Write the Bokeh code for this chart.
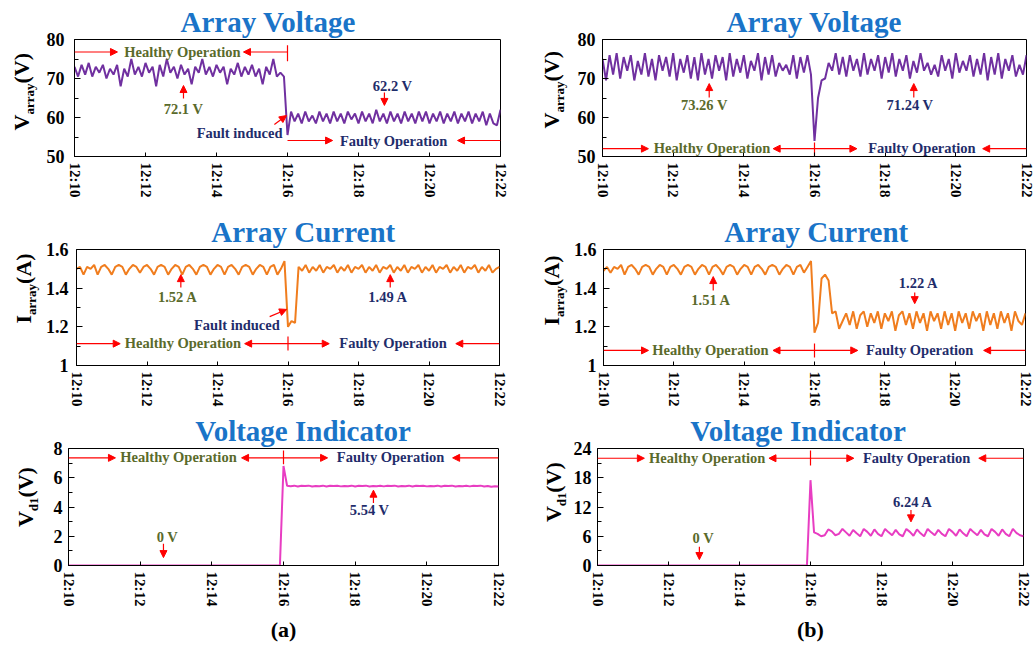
import math
from bokeh.plotting import figure
from bokeh.models import Range1d, FixedTicker, Label, Arrow, NormalHead, Title
from bokeh.core.properties import value
from bokeh.layouts import row, column
from bokeh.embed import file_html
from bokeh.resources import INLINE

FONT = "Liberation Serif"
BLUE = "#1a74c8"
OLIVE = "#5a6a2b"
NAVY = "#1f2d6b"
RED = "#ff0000"
PURPLE = "#7030a0"
ORANGE = "#f07d1e"
MAGENTA = "#e83dc2"

# sampling times (minutes after 12:00), one sample every 0.1 min
t = [round(10 + 0.1 * i, 1) for i in range(121)]
tick_minutes = [10, 12, 14, 16, 18, 20, 22]
tick_labels = ["12:10", "12:12", "12:14", "12:16", "12:18", "12:20", "12:22"]

# (a) array voltage
v_array_a = [
    73, 70.5, 73.5, 71, 74, 70.5, 73, 71.5, 73.5, 70,
    72.5, 71, 73.5, 68, 72.5, 70.5, 75, 71, 73, 70.5,
    74, 71.5, 73, 68, 73.5, 70.5, 75, 71.5, 73, 70,
    73.5, 71, 72.5, 68.5, 73, 71.5, 75, 71, 73, 70.5,
    73.5, 71.5, 73, 68.5, 72.5, 71, 74, 70.5, 73, 71,
    73.5, 70.5, 72.5, 68.5, 73, 71, 75, 70.5, 71.5, 70.5,
    55.5,
    61.5, 59, 61, 58.5, 61.5, 59, 60.5, 58.5, 61.5, 59,
    61, 58.5, 61.5, 59, 61, 58.5, 61.5, 59.5, 61, 58.5,
    61.5, 59, 61, 58.5, 62, 59, 61, 58.5, 61.5, 59,
    61, 58.5, 61.5, 59, 61, 58.5, 61.5, 59, 61.5, 58.5,
    61, 59, 61.5, 58.5, 61, 59, 61.5, 58.5, 61, 59,
    61.5, 58.5, 61, 59, 61.5, 58, 61, 58.5, 58, 62]

# (b) array voltage
v_array_b = [
    75, 69.5, 76, 71, 76.5, 70, 75.5, 72, 76, 69.5,
    74.5, 71, 76.5, 70.5, 75, 69.5, 76, 72, 75.5, 70.5,
    76.5, 69.5, 75, 71.5, 76, 70, 75.5, 69.5, 76.5, 71,
    75, 70, 76, 72, 75.5, 69.5, 76.5, 70.5, 75, 71.5,
    76, 70, 74.5, 72, 76.5, 69.5, 75.5, 71, 76, 70.5,
    74, 72, 73.5, 71, 76, 70, 75.5, 71.5, 76, 71,
    54,
    65, 69.5, 70, 74, 72, 76.5, 71, 75.5, 70.5, 76,
    72, 75, 70.5, 76.5, 71, 75, 72, 76, 70, 75.5,
    71.5, 76.5, 70.5, 75, 72, 76, 70, 74.5, 71.5, 76.5,
    72, 74, 71, 73.5, 70.5, 76, 72, 75, 70, 76.5,
    71.5, 74.5, 72, 76, 70.5, 75, 71, 76.5, 69.5, 75.5,
    71, 76.5, 70, 75, 72, 76, 70.5, 73.5, 71, 76]

# (a) array current
i_array_a = [
    1.50, 1.51, 1.47, 1.51, 1.50, 1.52, 1.47, 1.51, 1.52, 1.50,
    1.47, 1.51, 1.52, 1.51, 1.47, 1.50, 1.52, 1.51, 1.48, 1.51,
    1.52, 1.50, 1.47, 1.51, 1.52, 1.51, 1.47, 1.50, 1.52, 1.51,
    1.47, 1.51, 1.52, 1.50, 1.47, 1.51, 1.52, 1.51, 1.47, 1.50,
    1.52, 1.51, 1.47, 1.51, 1.52, 1.50, 1.47, 1.51, 1.52, 1.51,
    1.47, 1.50, 1.52, 1.51, 1.47, 1.51, 1.52, 1.47, 1.50, 1.54,
    1.20, 1.23, 1.22, 1.51, 1.49, 1.52, 1.48, 1.51, 1.49, 1.52,
    1.48, 1.51, 1.50, 1.52, 1.48, 1.51, 1.49, 1.52, 1.48, 1.51,
    1.50, 1.52, 1.48, 1.51, 1.49, 1.52, 1.48, 1.51, 1.50, 1.52,
    1.48, 1.51, 1.49, 1.52, 1.48, 1.51, 1.50, 1.52, 1.48, 1.51,
    1.49, 1.52, 1.48, 1.51, 1.50, 1.52, 1.48, 1.51, 1.49, 1.52,
    1.48, 1.51, 1.50, 1.52, 1.48, 1.51, 1.49, 1.52, 1.48, 1.50, 1.51]

# (b) array current
i_array_b = [
    1.49, 1.51, 1.48, 1.51, 1.50, 1.52, 1.47, 1.51, 1.52, 1.50,
    1.47, 1.51, 1.52, 1.51, 1.47, 1.50, 1.52, 1.51, 1.47, 1.51,
    1.52, 1.50, 1.47, 1.51, 1.52, 1.51, 1.47, 1.50, 1.52, 1.51,
    1.47, 1.51, 1.52, 1.50, 1.47, 1.51, 1.52, 1.51, 1.47, 1.50,
    1.52, 1.51, 1.47, 1.51, 1.52, 1.50, 1.47, 1.51, 1.52, 1.51,
    1.47, 1.50, 1.52, 1.51, 1.47, 1.51, 1.52, 1.48, 1.51, 1.54,
    1.17, 1.22, 1.45, 1.47, 1.44, 1.27, 1.28, 1.19, 1.23, 1.27,
    1.21, 1.28, 1.19, 1.26, 1.28, 1.20, 1.27, 1.22, 1.28, 1.19,
    1.27, 1.23, 1.28, 1.18, 1.26, 1.28, 1.21, 1.27, 1.19, 1.28,
    1.22, 1.27, 1.18, 1.28, 1.23, 1.27, 1.19, 1.28, 1.21, 1.27,
    1.18, 1.28, 1.22, 1.27, 1.19, 1.28, 1.23, 1.27, 1.18, 1.28,
    1.21, 1.27, 1.19, 1.28, 1.22, 1.27, 1.18, 1.28, 1.23, 1.21, 1.27]

# (a) voltage indicator
v_d1_a = [
    0, 0, 0, 0, 0, 0, 0, 0, 0, 0,
    0, 0, 0, 0, 0, 0, 0, 0, 0, 0,
    0, 0, 0, 0, 0, 0, 0, 0, 0, 0,
    0, 0, 0, 0, 0, 0, 0, 0, 0, 0,
    0, 0, 0, 0, 0, 0, 0, 0, 0, 0,
    0, 0, 0, 0, 0, 0, 0, 0, 0, 0,
    6.8, 5.45, 5.42, 5.46, 5.40, 5.45, 5.43, 5.46, 5.40, 5.44,
    5.42, 5.46, 5.40, 5.45, 5.43, 5.46, 5.41, 5.44, 5.42, 5.46,
    5.40, 5.45, 5.43, 5.46, 5.40, 5.44, 5.42, 5.46, 5.41, 5.45,
    5.43, 5.46, 5.40, 5.44, 5.42, 5.46, 5.40, 5.45, 5.43, 5.46,
    5.41, 5.44, 5.42, 5.46, 5.40, 5.45, 5.43, 5.46, 5.40, 5.44,
    5.42, 5.46, 5.41, 5.45, 5.43, 5.46, 5.40, 5.44, 5.38, 5.42, 5.40]

# (b) voltage indicator
v_d1_b = [
    0, 0, 0, 0, 0, 0, 0, 0, 0, 0,
    0, 0, 0, 0, 0, 0, 0, 0, 0, 0,
    0, 0, 0, 0, 0, 0, 0, 0, 0, 0,
    0, 0, 0, 0, 0, 0, 0, 0, 0, 0,
    0, 0, 0, 0, 0, 0, 0, 0, 0, 0,
    0, 0, 0, 0, 0, 0, 0, 0, 0, 0,
    17.5, 6.8, 6.5, 6.0, 6.2, 7.4, 7.0, 6.2, 6.5, 7.5,
    6.8, 6.1, 7.3, 6.6, 6.0, 7.5, 6.9, 6.1, 7.4, 6.5,
    6.0, 7.5, 6.8, 6.2, 7.3, 6.4, 6.0, 7.5, 6.9, 6.1,
    7.4, 6.6, 6.0, 7.5, 6.8, 6.2, 7.3, 6.5, 6.0, 7.5,
    6.9, 6.1, 7.4, 6.6, 6.0, 7.5, 6.8, 6.2, 7.3, 6.4,
    6.0, 7.5, 6.9, 6.1, 7.4, 6.5, 6.0, 7.5, 6.7, 6.2, 6.0]

for s in (v_array_a, v_array_b, i_array_a, i_array_b, v_d1_a, v_d1_b):
    assert len(s) == len(t), len(s)

# Times-bold advance widths (em), used to place the composed texts
ADV = {" ": 0.25, "(": 0.333, ")": 0.333, "V": 0.722, "A": 0.722, "I": 0.389, "C": 0.722,
       "a": 0.5, "r": 0.444, "y": 0.5, "d": 0.556, "1": 0.5, "o": 0.5, "l": 0.278,
       "t": 0.333, "g": 0.5, "e": 0.444, "u": 0.556, "n": 0.556, "i": 0.278, "c": 0.444}
MID = 0.34  # distance (em) from the baseline up to the middle of the em box
TITLE_SIZE = 29


def tw(s, size):
    return sum(ADV[c] for c in s) * size


def blank(width, height, yr):
    """A figure with no axes whose data units are pixels (used for the y-axis titles)."""
    f = figure(width=width, height=height, x_range=Range1d(0, width), y_range=Range1d(*yr),
               x_axis_type=None, y_axis_type=None, output_backend="svg", toolbar_location=None,
               title=None, min_border=0, min_border_left=0, min_border_right=0,
               min_border_top=0, min_border_bottom=0, outline_line_color=None)
    f.grid.visible = False
    f.background_fill_color = "white"
    f.border_fill_color = "white"
    return f


def ylabel_strip(width, height, bt, bb, parts, bx, by):
    """Strip beside a panel.  Its frame is aligned with the panel's frame (borders bt/bb),
    so the y range is set to keep data units = pixels measured from the strip bottom.
    bx: x of the text baseline, by: height (from the bottom) where the text starts."""
    f = blank(width, height, (bb, height - bt))
    y = by
    for txt, size, shift in parts:
        w = tw(txt, size)
        f.text(x=[bx + shift - MID * size], y=[y + w / 2], text=[txt], angle=math.pi / 2,
               text_align="center", text_baseline="middle", text_font=value(FONT),
               text_font_style="bold", text_font_size=f"{size}px", text_color="black")
        y += w
    return f


def make_panel(width, height, borders, title, title_center, title_standoff,
               y_range, y_ticks, y_minor, y_tick_text, ystand,
               series, color, texts, arrows, bars, xlabel=None):
    bl, br, bt, bb = borders
    p = figure(width=width, height=height, x_range=Range1d(10, 22), y_range=Range1d(*y_range),
               output_backend="svg", toolbar_location=None, title=None,
               min_border_left=bl, min_border_right=br, min_border_top=bt, min_border_bottom=bb)
    p.grid.visible = False
    p.outline_line_color = "black"
    p.outline_line_width = 1
    p.outline_line_alpha = 1
    p.background_fill_color = "white"
    p.border_fill_color = "white"

    # title: left aligned on the frame, shifted so that its centre sits where wanted
    p.add_layout(Title(text=title, align="left",
                       offset=title_center - bl - tw(title, TITLE_SIZE) / 2,
                       vertical_align="bottom", standoff=title_standoff,
                       text_font=FONT, text_font_style="bold",
                       text_font_size=f"{TITLE_SIZE}px", text_color=BLUE), "above")

    p.line(t, series, line_color=color, line_width=2)

    xa = p.xaxis[0]
    xa.ticker = FixedTicker(ticks=tick_minutes, minor_ticks=[])
    xa.major_label_overrides = dict(zip(tick_minutes, tick_labels))
    xa.major_label_orientation = "vertical"
    xa.major_label_text_font = FONT
    xa.major_label_text_font_style = "bold"
    xa.major_label_text_font_size = "15px"
    xa.major_label_text_color = "black"
    xa.major_label_standoff = 6
    xa.major_tick_in = 4
    xa.major_tick_out = 0
    xa.axis_line_color = "black"
    xa.major_tick_line_color = "black"
    if xlabel:
        xa.axis_label = xlabel
        xa.axis_label_text_font = FONT
        xa.axis_label_text_font_style = "bold"
        xa.axis_label_text_font_size = "22px"
        xa.axis_label_text_color = "black"
        xa.axis_label_standoff = 8

    ya = p.yaxis[0]
    ya.ticker = FixedTicker(ticks=y_ticks, minor_ticks=y_minor)
    ya.major_label_overrides = dict(zip(y_ticks, y_tick_text))
    ya.major_label_text_font = FONT
    ya.major_label_text_font_style = "bold"
    ya.major_label_text_font_size = "18px"
    ya.major_label_text_color = "black"
    ya.major_label_standoff = ystand
    ya.major_tick_in = 6
    ya.major_tick_out = 0
    ya.minor_tick_in = 4
    ya.minor_tick_out = 0
    ya.axis_line_color = "black"
    ya.major_tick_line_color = "black"
    ya.minor_tick_line_color = "black"

    for txt, x, y, c in texts:
        p.add_layout(Label(x=x, y=y, text=txt, text_align="center", text_baseline="middle",
                           text_font=FONT, text_font_style="bold", text_font_size="14.5px",
                           text_color=c))
    for x0, y0, x1, y1 in arrows:
        p.add_layout(Arrow(x_start=x0, y_start=y0, x_end=x1, y_end=y1, line_color=RED,
                           line_width=1.2,
                           end=NormalHead(size=7, line_color=RED, fill_color=RED, line_width=1)))
    for x, y0, y1 in bars:
        p.segment(x0=[x], y0=[y0], x1=[x], y1=[y1], line_color=RED, line_width=1.2)
    return p


V_LAB = [("V", 22, 0), ("array", 13, 5), (" (V)", 22, 0)]
I_LAB = [("I", 22, 0), ("array", 13, 5), (" (A)", 22, 0)]
D_LAB = [("V", 22, 0), ("d1", 13, 5), (" (V)", 22, 0)]

HO, FO = "Healthy Operation", "Faulty Operation"

# ---------- row 1 : array voltage ----------
sA1 = ylabel_strip(42, 210, 39, 54, V_LAB, 28, 80)
pA1 = make_panel(
    478, 210, (32, 20, 39, 54), "Array Voltage", 269 - 42, 4,
    (50, 80), [50, 60, 70, 80], [55, 65, 75],
    ["50", "60", "70", "80"], 10, v_array_a, PURPLE,
    [(HO, 13.04, 76.8, OLIVE), (FO, 18.99, 54.1, NAVY), ("72.1 V", 13.07, 62.3, OLIVE),
     ("62.2 V", 18.96, 68.2, NAVY), ("Fault induced", 14.65, 55.9, NAVY)],
    [(10, 76.8, 11.21, 76.8), (16, 76.8, 14.76, 76.8), (16, 54.1, 17.27, 54.1),
     (22, 54.1, 20.79, 54.1), (13.07, 64.9, 13.07, 68.2), (18.73, 66.4, 18.73, 63.1),
     (15.63, 58.2, 15.97, 60.5)],
    [(16, 78.5, 74.4)])
sB1 = ylabel_strip(50, 210, 39, 54, V_LAB, 38, 82)
pB1 = make_panel(
    464, 210, (32, 8, 39, 54), "Array Voltage", 815 - 570, 3,
    (50, 80), [50, 60, 70, 80], [55, 65, 75],
    ["50", "60", "70", "80"], 7, v_array_b, PURPLE,
    [(HO, 13.1, 52.1, OLIVE), (FO, 19.04, 52.1, NAVY), ("73.26 V", 12.88, 63.1, OLIVE),
     ("71.24 V", 18.7, 63.1, NAVY)],
    [(10, 52.0, 11.3, 52.0), (16, 52.0, 14.83, 52.0), (16, 52.0, 17.2, 52.0),
     (22, 52.0, 20.76, 52.0), (13.02, 65.1, 13.02, 68.7), (18.81, 65.1, 18.81, 68.7)],
    [(16, 53.6, 50)])

# ---------- row 2 : array current ----------
sA2 = ylabel_strip(42, 200, 39, 45, I_LAB, 30, 87)
pA2 = make_panel(
    478, 200, (32, 21, 39, 45), "Array Current", 301 - 42, 4,
    (1.0, 1.6), [1.0, 1.2, 1.4, 1.6], [1.1, 1.3, 1.5],
    ["1", "1.2", "1.4", "1.6"], 8, i_array_a, ORANGE,
    [(HO, 13.02, 1.115, OLIVE), (FO, 18.98, 1.115, NAVY), ("1.52 A", 12.87, 1.352, OLIVE),
     ("1.49 A", 18.84, 1.352, NAVY), ("Fault induced", 14.55, 1.207, NAVY)],
    [(10, 1.113, 11.24, 1.113), (16, 1.113, 14.77, 1.113), (16, 1.113, 17.17, 1.113),
     (22, 1.113, 20.76, 1.113), (12.96, 1.403, 12.96, 1.47), (18.9, 1.403, 18.9, 1.47),
     (15.48, 1.253, 15.96, 1.29)],
    [(16, 1.15, 1.078)])
sB2 = ylabel_strip(50, 200, 39, 45, I_LAB, 38, 85)
pB2 = make_panel(
    464, 200, (32, 9, 39, 45), "Array Current", 815 - 570, 4,
    (1.0, 1.6), [1.0, 1.2, 1.4, 1.6], [1.1, 1.3, 1.5],
    ["1", "1.2", "1.4", "1.6"], 7, i_array_b, ORANGE,
    [(HO, 13.04, 1.082, OLIVE), (FO, 18.99, 1.082, NAVY), ("1.51 A", 13.06, 1.341, OLIVE),
     ("1.22 A", 18.96, 1.429, NAVY)],
    [(10, 1.078, 11.28, 1.078), (16, 1.078, 14.82, 1.078), (16, 1.078, 17.23, 1.078),
     (22, 1.078, 20.81, 1.078), (13.12, 1.388, 13.12, 1.46), (18.85, 1.378, 18.85, 1.32)],
    [(16, 1.114, 1.041)])

# ---------- row 3 : voltage indicator ----------
sA3 = ylabel_strip(42, 235, 38, 79, D_LAB, 32, 118)
pA3 = make_panel(
    478, 235, (26, 22, 38, 79), "Voltage Indicator", 304 - 42, 3,
    (0, 8), [0, 2, 4, 6, 8], [1, 3, 5, 7],
    ["0", "2", "4", "6", "8"], 6, v_d1_a, MAGENTA,
    [(HO, 13.07, 7.42, OLIVE), (FO, 18.99, 7.42, NAVY), ("0 V", 12.76, 1.97, OLIVE),
     ("5.54 V", 18.4, 3.8, NAVY)],
    [(10, 7.36, 11.31, 7.36), (16, 7.36, 14.83, 7.36), (16, 7.36, 17.23, 7.36),
     (22, 7.36, 20.72, 7.36), (12.65, 1.49, 12.65, 0.54), (18.51, 4.27, 18.51, 5.15)],
    [(16, 7.86, 6.92)], xlabel="(a)")
sB3 = ylabel_strip(50, 235, 38, 79, D_LAB, 40, 123)
pB3 = make_panel(
    464, 235, (26, 11, 38, 79), "Voltage Indicator", 798 - 570, 3,
    (0, 24), [0, 6, 12, 18, 24], [3, 9, 15, 21],
    ["0", "6", "12", "18", "24"], 6, v_d1_b, MAGENTA,
    [(HO, 13.09, 22.1, OLIVE), (FO, 18.99, 22.1, NAVY), ("0 V", 12.98, 5.7, OLIVE),
     ("6.24 A", 18.88, 13.0, NAVY)],
    [(10, 22.0, 11.32, 22.0), (16, 22.0, 14.83, 22.0), (16, 22.0, 17.22, 22.0),
     (22, 22.0, 20.74, 22.0), (12.87, 3.87, 12.87, 1.22), (18.83, 11.4, 18.83, 8.95)],
    [(16, 23.6, 20.5)], xlabel="(b)")

layout = column(
    row(sA1, pA1, sB1, pB1),
    row(sA2, pA2, sB2, pB2),
    row(sA3, pA3, sB3, pB3),
)

with open("out.html", "w") as f:
    f.write(file_html(layout, INLINE))
